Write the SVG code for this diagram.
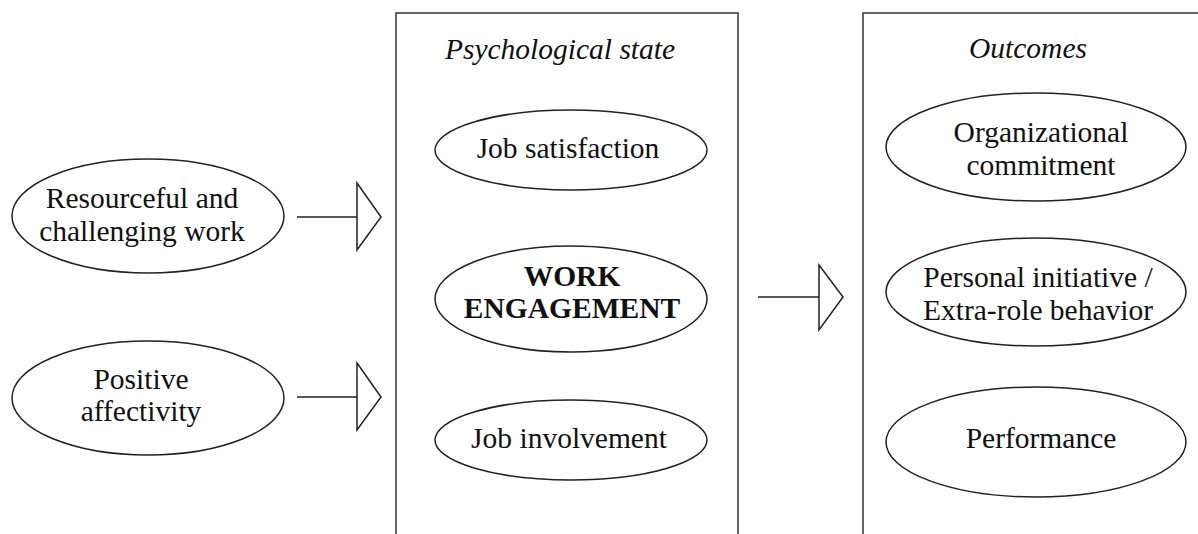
<svg xmlns="http://www.w3.org/2000/svg" width="1198" height="534" viewBox="0 0 1198 534">
<style>
.shape{fill:#fff;stroke:#222;stroke-width:1.5}
.box{fill:none;stroke:#333;stroke-width:1.5}
.conn{fill:#fff;stroke:#222;stroke-width:1.5}
text{font-family:"Liberation Serif","Times New Roman",serif;font-size:29.5px;fill:#111;text-anchor:middle}
.title{font-style:italic}
.bold{font-weight:bold}
</style>
<rect width="1198" height="534" fill="#fff"/>
<g id="box-psychological-state">
<rect class="box" x="396" y="13" width="342" height="540"/>
<text class="title" x="560" y="59">Psychological state</text>
</g>
<g id="box-outcomes">
<rect class="box" x="863" y="13" width="360" height="540"/>
<text class="title" x="1028" y="58">Outcomes</text>
</g>
<g id="node-resourceful">
<ellipse class="shape" cx="148" cy="216" rx="136" ry="57"/>
<text x="142" y="208">Resourceful and</text>
<text x="142" y="241">challenging work</text>
</g>
<g id="node-positive">
<ellipse class="shape" cx="148" cy="398" rx="136" ry="57"/>
<text x="141" y="389">Positive</text>
<text x="141" y="421">affectivity</text>
</g>
<g id="node-job-satisfaction">
<ellipse class="shape" cx="571" cy="150" rx="136" ry="40"/>
<text x="568" y="158">Job satisfaction</text>
</g>
<g id="node-work-engagement">
<ellipse class="shape" cx="571" cy="299" rx="136" ry="53"/>
<text class="bold" x="572" y="286">WORK</text>
<text class="bold" x="572" y="318">ENGAGEMENT</text>
</g>
<g id="node-job-involvement">
<ellipse class="shape" cx="571" cy="440" rx="136" ry="40"/>
<text x="569" y="448">Job involvement</text>
</g>
<g id="node-org-commitment">
<ellipse class="shape" cx="1036" cy="147" rx="150" ry="54"/>
<text x="1041" y="142">Organizational</text>
<text x="1041" y="175">commitment</text>
</g>
<g id="node-personal-initiative">
<ellipse class="shape" cx="1036" cy="292" rx="150" ry="54"/>
<text x="1038" y="287">Personal initiative /</text>
<text x="1038" y="320">Extra-role behavior</text>
</g>
<g id="node-performance">
<ellipse class="shape" cx="1036" cy="442" rx="150" ry="55"/>
<text x="1041" y="448">Performance</text>
</g>
<g id="connectors">
<line class="conn" x1="297" y1="217" x2="357" y2="217"/>
<polygon class="conn" points="357,183 381,217 357,250"/>
<line class="conn" x1="297" y1="397" x2="357" y2="397"/>
<polygon class="conn" points="357,363 381,397 357,430"/>
<line class="conn" x1="758" y1="297" x2="819" y2="297"/>
<polygon class="conn" points="819,265 843,297 819,330"/>
</g>
</svg>
